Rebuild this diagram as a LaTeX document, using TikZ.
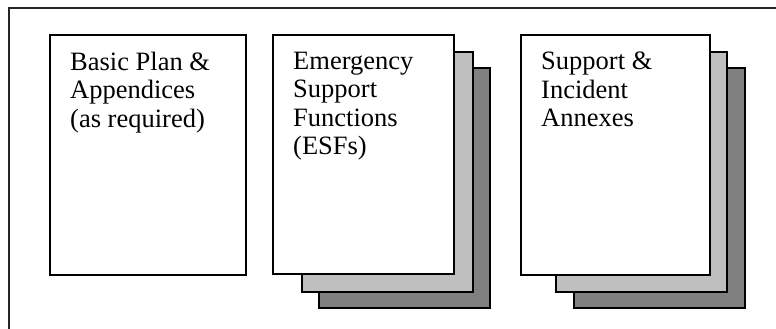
\documentclass[tikz,border=0pt]{standalone}
\usepackage{fontspec}
\setmainfont{Liberation Serif}
\usetikzlibrary{positioning}
\tikzset{
  page/.style={draw,line width=1.8pt,rectangle,anchor=north west,inner sep=0pt,minimum height=240pt},
  frontpage/.style={page,fill=white},
  midpage/.style={page,fill=black!25,minimum width=171pt},
  backpage/.style={page,fill=black!50,minimum width=171pt},
  pagetext/.style={anchor=north west,inner sep=0pt,align=left,font=\fontsize{26.5}{28.3}\selectfont}
}
\begin{document}
\begin{tikzpicture}[x=1pt,y=-1pt]
          \useasboundingbox (0,0) rectangle (776,329);
          % outer frame (only top and left edge inside the crop)
          \draw[line width=1.5pt,black!85] (9,329) -- (9,8) -- (776,8);

          % basic plan
          \node[frontpage,minimum width=196pt] (plan) at (49,34) {};
          \node[pagetext] (plantext) at ([xshift=21pt,yshift=-18pt]plan.north west)
            {Basic Plan \&\\Appendices\\(as required)};

          % ESFs
          \node[backpage] (esfC) at (318,67) {};
          \node[midpage] (esfB) at (301,51) {};
          \node[frontpage,minimum width=181pt,minimum height=239pt] (esfA) at (272,34) {};
          \node[pagetext] (esftext) at ([xshift=21pt,yshift=-18pt]esfA.north west)
            {Emergency\\Support\\Functions\\(ESFs)};

          % annexes
          \node[backpage] (annexC) at (573,67) {};
          \node[midpage] (annexB) at (555,51) {};
          \node[frontpage,minimum width=189pt] (annexA) at (520,34) {};
          \node[pagetext] (annextext) at ([xshift=21pt,yshift=-18pt]annexA.north west)
            {Support \&\\Incident\\Annexes};
        \end{tikzpicture}
\end{document}
